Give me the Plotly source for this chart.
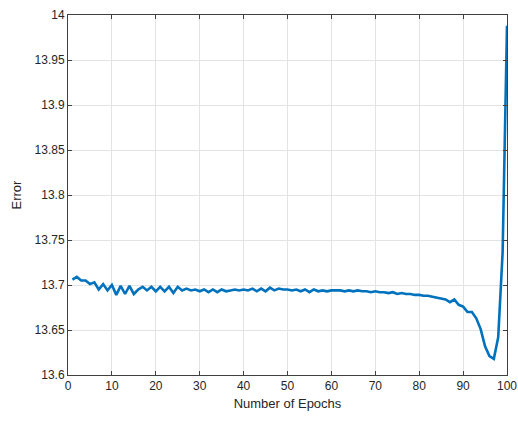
import plotly.graph_objects as go

epochs = list(range(1, 101))
error = [
    13.706, 13.709, 13.705, 13.705, 13.701, 13.703, 13.695, 13.701, 13.694, 13.700,
    13.689, 13.699, 13.690, 13.699, 13.690, 13.695, 13.698, 13.694, 13.698, 13.693,
    13.698, 13.693, 13.698, 13.691, 13.698, 13.694, 13.696, 13.694, 13.695, 13.693,
    13.695, 13.692, 13.695, 13.692, 13.695, 13.693, 13.694, 13.695, 13.694, 13.695,
    13.694, 13.696, 13.693, 13.696, 13.693, 13.697, 13.694, 13.696, 13.695, 13.695,
    13.694, 13.695, 13.693, 13.695, 13.692, 13.695, 13.693, 13.694, 13.693, 13.694,
    13.694, 13.694, 13.693, 13.694, 13.693, 13.694, 13.693, 13.693, 13.692, 13.693,
    13.692, 13.692, 13.691, 13.692, 13.690, 13.691, 13.690, 13.690, 13.689, 13.689,
    13.688, 13.688, 13.687, 13.686, 13.6855, 13.684, 13.681, 13.684, 13.678, 13.676,
    13.670, 13.670, 13.663, 13.651, 13.632, 13.621, 13.618, 13.642, 13.736, 13.988,
]

x_ticks = list(range(0, 101, 10))
y_ticks = [13.6, 13.65, 13.7, 13.75, 13.8, 13.85, 13.9, 13.95, 14.0]
y_tick_labels = ["13.6", "13.65", "13.7", "13.75", "13.8", "13.85", "13.9", "13.95", "14"]

axis_color = "#404040"
grid_color = "#e3e3e3"
font_color = "#262626"
font_family = "Liberation Sans, Arial, sans-serif"

fig = go.Figure()
fig.add_trace(go.Scatter(
    x=epochs, y=error, mode="lines",
    line=dict(color="#0072BD", width=2.6),
    showlegend=False,
))

common = dict(
    showline=True, linecolor=axis_color, linewidth=1, mirror="ticks",
    ticks="inside", ticklen=4, tickcolor=axis_color,
    showgrid=True, gridcolor=grid_color, gridwidth=1,
    zeroline=False, automargin=False,
    tickfont=dict(family=font_family, size=12, color=font_color),
    ticklabeloverflow="allow",
)

fig.update_xaxes(
    range=[0, 100], tickvals=x_ticks,
    title=dict(text="Number of Epochs", standoff=6,
               font=dict(family=font_family, size=13, color=font_color)),
    **common,
)
fig.update_yaxes(
    range=[13.6, 14.0], tickvals=y_ticks, ticktext=y_tick_labels,
    title=dict(text="Error", standoff=10,
               font=dict(family=font_family, size=13, color=font_color)),
    **common,
)

fig.update_layout(
    width=518, height=421,
    margin=dict(l=68, r=11, t=15, b=46),
    plot_bgcolor="white", paper_bgcolor="white",
)

fig.write_html("out.html")
